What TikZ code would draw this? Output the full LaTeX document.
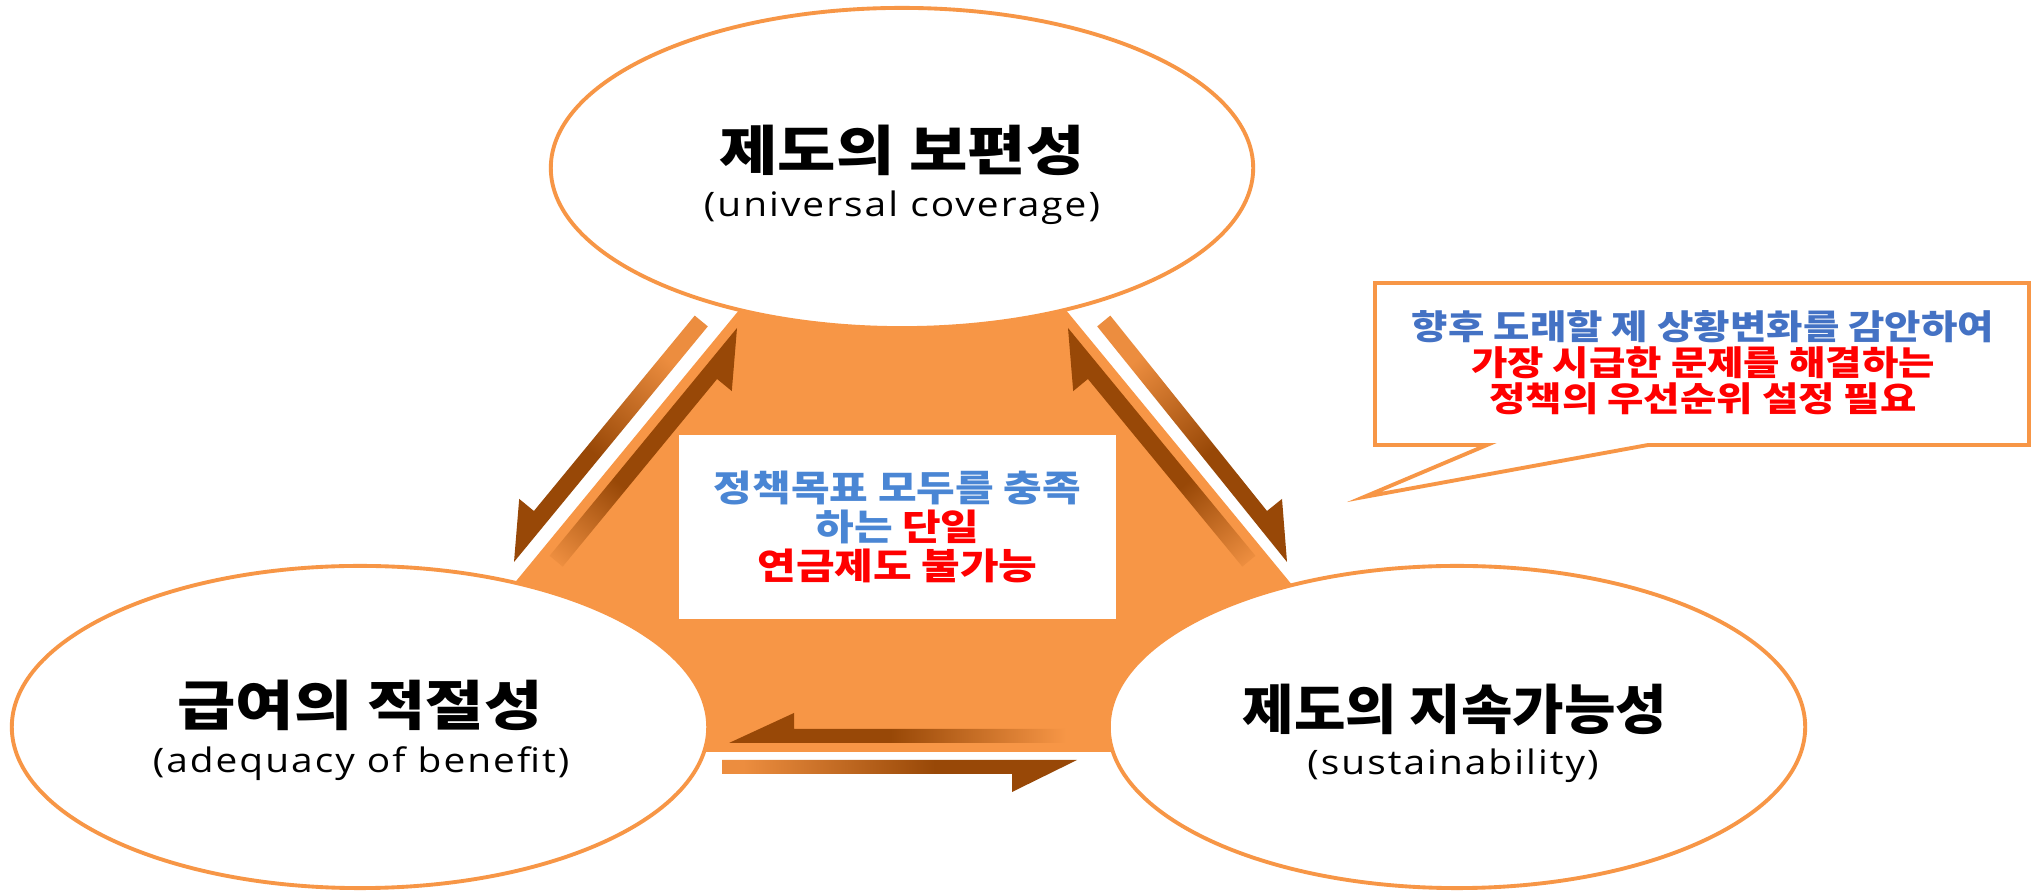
\documentclass[tikz,border=0pt]{standalone}
\usepackage{fontspec}
\setmainfont{Noto Sans CJK KR}
\newfontfamily\kr{Noto Sans CJK KR}[FakeStretch=1.18]
\newfontfamily\krs{Noto Sans CJK KR}[FakeStretch=1.16]
\newfontfamily\krn{Noto Sans CJK KR}[FakeStretch=1.04]
\newfontfamily\en{Open Sans}[FakeStretch=1.15, LetterSpace=6]
\usetikzlibrary{shapes.geometric}
\definecolor{orng}{HTML}{F79646}
\definecolor{brownd}{HTML}{984807}
\definecolor{tailc}{HTML}{EC8D3F}
\definecolor{blueA}{HTML}{4472C4}
\definecolor{blueB}{HTML}{4A86D4}
\definecolor{redA}{HTML}{FF0000}
\pgfdeclarehorizontalshading{outerfade}{100bp}{color(0bp)=(tailc); color(28bp)=(tailc); color(55bp)=(brownd); color(100bp)=(brownd)}
\pgfdeclarehorizontalshading{innerfade}{100bp}{color(0bp)=(orng); color(14bp)=(orng); color(40bp)=(brownd); color(100bp)=(brownd)}
\pgfdeclarehorizontalshading{horizfade}{100bp}{color(0bp)=(orng); color(27bp)=(orng); color(52bp)=(brownd); color(100bp)=(brownd)}
\begin{document}
\begin{tikzpicture}[x=0.01cm, y=-0.01cm,
  bubble/.style={ellipse, draw=orng, line width=1.1pt, fill=white, inner sep=0pt},
  titletext/.style={inner sep=0pt, font=\kr\bfseries\fontsize{15.3}{17}\selectfont},
  engtext/.style={inner sep=0pt, font=\en\fontsize{9.6}{11}\selectfont},
  outerarrow/.style={shading=outerfade},
  innerarrow/.style={shading=innerfade},
  horizarrow/.style={shading=horizfade}]
\useasboundingbox (0,0) rectangle (2033,892);
\fill[white] (0,0) rectangle (2033,892);

% orange central area
\fill[orng] (788.5,250) -- (1016.5,250) -- (1429.5,752) -- (375.5,752) -- cycle;

% diagonal arrows, left side
\shade[outerarrow, shading angle=230.6] (514,562) -- (707.8,326.4) -- (694.7,315.6) -- (533.9,511.0) -- (519.2,498.9) -- cycle;
\shade[innerarrow, shading angle=50.6] (737,328) -- (549.6,555.8) -- (562.7,566.6) -- (717.1,379.0) -- (731.8,391.1) -- cycle;
% diagonal arrows, right side
\shade[outerarrow, shading angle=309.4] (1287,562) -- (1097.2,326.4) -- (1110.3,315.6) -- (1267,511.0) -- (1282,498.9) -- cycle;
\shade[innerarrow, shading angle=129.4] (1068,328) -- (1255.4,555.8) -- (1242.3,566.6) -- (1087.9,379.0) -- (1073.2,391.1) -- cycle;
% horizontal arrows
\shade[horizarrow, shading angle=180] (729,743) -- (1080,743) -- (1080,729) -- (794,729) -- (794,713) -- cycle;
\shade[outerarrow, shading angle=0] (1077,760) -- (722,760) -- (722,774) -- (1012,774) -- (1012,792) -- cycle;

% central box
\node[fill=white, inner sep=0pt, minimum width=4.37cm, minimum height=1.84cm,
      align=center, font=\krs\bfseries\fontsize{10.3}{11.1}\selectfont] (goal) at (897.5,527)
  {\textcolor{blueB}{정책목표 모두를 충족}\\\textcolor{blueB}{하는} \textcolor{redA}{단일}\\\textcolor{redA}{연금제도 불가능}};

% ellipses
\node[bubble, minimum width=7.02cm, minimum height=3.2cm] (univ) at (902,168) {};
\node[bubble, minimum width=6.96cm, minimum height=3.22cm] (adeq) at (360,727) {};
\node[bubble, minimum width=6.96cm, minimum height=3.22cm] (sust) at (1457,727) {};

\node[titletext] (univT) at (902,150) {제도의 보편성};
\node[engtext] (univE) at (902,208) {(universal coverage)};
\node[titletext] (adeqT) at (360,705) {급여의 적절성};
\node[engtext] (adeqE) at (361,764) {(adequacy of benefit)};
\node[titletext, font=\krn\bfseries\fontsize{15.3}{17}\selectfont] (sustT) at (1455,709) {제도의 지속가능성};
\node[engtext] (sustE) at (1453,766) {(sustainability)};

% callout
\coordinate (calltip) at (1364,497);
\draw[orng, line width=1.1pt, fill=white, line join=miter]
  (1375,283) -- (2029,283) -- (2029,445) -- (1648,445) -- (calltip) -- (1487,445) -- (1375,445) -- cycle;
\node[inner sep=0pt, align=center, font=\krs\bfseries\fontsize{9.7}{10.2}\selectfont] (calltext) at (1703,363)
  {\textcolor{blueA}{향후 도래할 제 상황변화를 감안하여}\\\textcolor{redA}{가장 시급한 문제를 해결하는}\\\textcolor{redA}{정책의 우선순위 설정 필요}};
\end{tikzpicture}
\end{document}
